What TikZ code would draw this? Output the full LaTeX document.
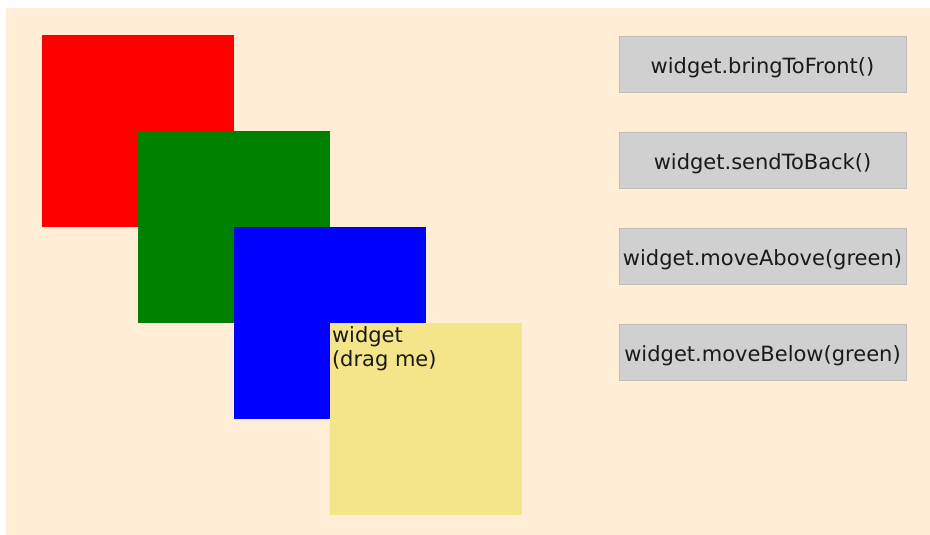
\documentclass[tikz,border=0pt]{standalone}
\usepackage{fontspec}
\setmainfont{DejaVu Sans}
\definecolor{cream}{HTML}{FFEDD6}
\definecolor{khaki}{HTML}{F5E58A}
\definecolor{btnfill}{HTML}{D0D0D0}
\definecolor{btnedge}{HTML}{BDBDBD}
\definecolor{txt}{HTML}{1A1A1A}
\begin{document}
\begin{tikzpicture}[x=1pt,y=-1pt,
  sq/.style={rectangle,inner sep=0pt,outer sep=0pt,minimum width=192pt,minimum height=192pt,anchor=north west},
  btn/.style={rectangle,inner sep=0pt,outer sep=0pt,minimum width=287pt,minimum height=56pt,anchor=north west,
    fill=btnfill,draw=btnedge,line width=0.8pt,text=txt,text height=22pt,text depth=3pt,
    font=\fontsize{21}{25}\selectfont},
  lbl/.style={inner sep=0pt,outer sep=0pt,anchor=base west,text=txt,font=\fontsize{21}{25}\selectfont}]
\useasboundingbox (0,0) rectangle (930,535);
\fill[white] (0,0) rectangle (930,535);
\fill[cream] (6,8) rectangle (930,535);
\node[sq,fill=red] (red) at (42,35) {};
\node[sq,fill={rgb,255:red,0;green,128;blue,0}] (green) at (138,131) {};
\node[sq,fill=blue] (blue) at (234,227) {};
\node[sq,fill=khaki] (widget) at (330,323) {};
\node[lbl] (wl1) at (332,342) {widget};
\node[lbl] (wl2) at (332,366) {(drag me)};
\node[btn] (b1) at (619,36) {widget.bringToFront()};
\node[btn] (b2) at (619,132) {widget.sendToBack()};
\node[btn] (b3) at (619,228) {widget.moveAbove(green)};
\node[btn] (b4) at (619,324) {widget.moveBelow(green)};
\end{tikzpicture}
\end{document}
